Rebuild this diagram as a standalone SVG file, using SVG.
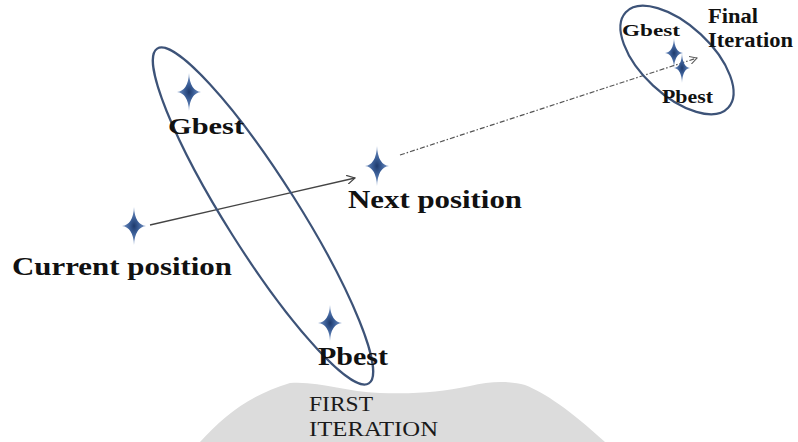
<svg xmlns="http://www.w3.org/2000/svg" xmlns:xlink="http://www.w3.org/1999/xlink" width="798" height="442" viewBox="0 0 798 442">
<defs>
<radialGradient id="sg" cx="0.5" cy="0.5" r="0.5">
<stop offset="0" stop-color="#1e3a6c"/>
<stop offset="0.4" stop-color="#3c5f98"/>
<stop offset="1" stop-color="#7f9cc9"/>
</radialGradient>
<path id="star" d="M0,-1 Q0.07,-0.07 1,0 Q0.07,0.07 0,1 Q-0.07,0.07 -1,0 Q-0.07,-0.07 0,-1 Z" fill="url(#sg)"/>
<marker id="open" viewBox="0 0 10 10" refX="9" refY="5" markerWidth="9" markerHeight="9" orient="auto" markerUnits="userSpaceOnUse">
<path d="M0,0 L9,5 L0,10" fill="none" stroke="#444" stroke-width="1.3"/>
</marker>
<marker id="openS" viewBox="0 0 10 10" refX="9" refY="5" markerWidth="8" markerHeight="8" orient="auto" markerUnits="userSpaceOnUse">
<path d="M0,0 L9,5 L0,10" fill="none" stroke="#555" stroke-width="1.3"/>
</marker>
</defs>
<style>
.ell{fill:none;stroke:#3d5378;stroke-width:2.2}
.big{font-family:"Liberation Serif","Times New Roman",serif;font-weight:bold;fill:#111}
.reg{font-family:"Liberation Serif","Times New Roman",serif;fill:#1a1a1a}
.conn{fill:none;stroke:#444;stroke-width:1.3}
</style>
<rect width="798" height="442" fill="#ffffff"/>
<g id="first-iteration-area">
<path d="M200,442 C225,415 250,395 290,383 C320,381 345,392 380,393 C420,394 440,392 470,386 C490,381 510,381 525,385 C545,393 570,410 605,442 Z" fill="#dcdcdc"/>
<text class="reg" x="309" y="411" font-size="20" textLength="64" lengthAdjust="spacingAndGlyphs">FIRST</text>
<text class="reg" x="309" y="436" font-size="20" textLength="129" lengthAdjust="spacingAndGlyphs">ITERATION</text>
</g>
<g id="connectors">
<line class="conn" x1="150" y1="225" x2="355" y2="178" marker-end="url(#open)"/>
<line x1="400" y1="155" x2="697" y2="58" stroke="#555" stroke-width="1.2" stroke-dasharray="5,2,1.5,2" marker-end="url(#openS)"/>
</g>
<g id="first-ellipse">
<ellipse class="ell" cx="263" cy="216" rx="198" ry="36" transform="rotate(57.7 263 216)"/>
</g>
<g id="final-ellipse">
<ellipse class="ell" cx="677" cy="60" rx="70" ry="35" transform="rotate(43 677 60)"/>
</g>
<g id="gbest">
<use xlink:href="#star" transform="translate(189 92) scale(12 19)"/>
<text class="big" x="168" y="134" font-size="24" textLength="76" lengthAdjust="spacingAndGlyphs">Gbest</text>
</g>
<g id="current-position">
<use xlink:href="#star" transform="translate(134 226) scale(12 19)"/>
<text class="big" x="12" y="275" font-size="26" textLength="220" lengthAdjust="spacingAndGlyphs">Current position</text>
</g>
<g id="next-position">
<use xlink:href="#star" transform="translate(377 166) scale(12 20)"/>
<text class="big" x="348" y="208" font-size="26" textLength="174" lengthAdjust="spacingAndGlyphs">Next position</text>
</g>
<g id="pbest">
<use xlink:href="#star" transform="translate(330 323) scale(12 18)"/>
<text class="big" x="318" y="365" font-size="26" textLength="70" lengthAdjust="spacingAndGlyphs">Pbest</text>
</g>
<g id="final-gbest">
<use xlink:href="#star" transform="translate(674 53) scale(9 15)"/>
<text class="big" x="622" y="36" font-size="17" textLength="58" lengthAdjust="spacingAndGlyphs">Gbest</text>
</g>
<g id="final-pbest">
<use xlink:href="#star" transform="translate(682 68) scale(8 15)"/>
<text class="big" x="662" y="103" font-size="19" textLength="51" lengthAdjust="spacingAndGlyphs">Pbest</text>
</g>
<g id="final-iteration-label">
<text class="big" x="708" y="23" font-size="20" textLength="50" lengthAdjust="spacingAndGlyphs">Final</text>
<text class="big" x="708" y="47" font-size="20" textLength="85" lengthAdjust="spacingAndGlyphs">Iteration</text>
</g>
</svg>
